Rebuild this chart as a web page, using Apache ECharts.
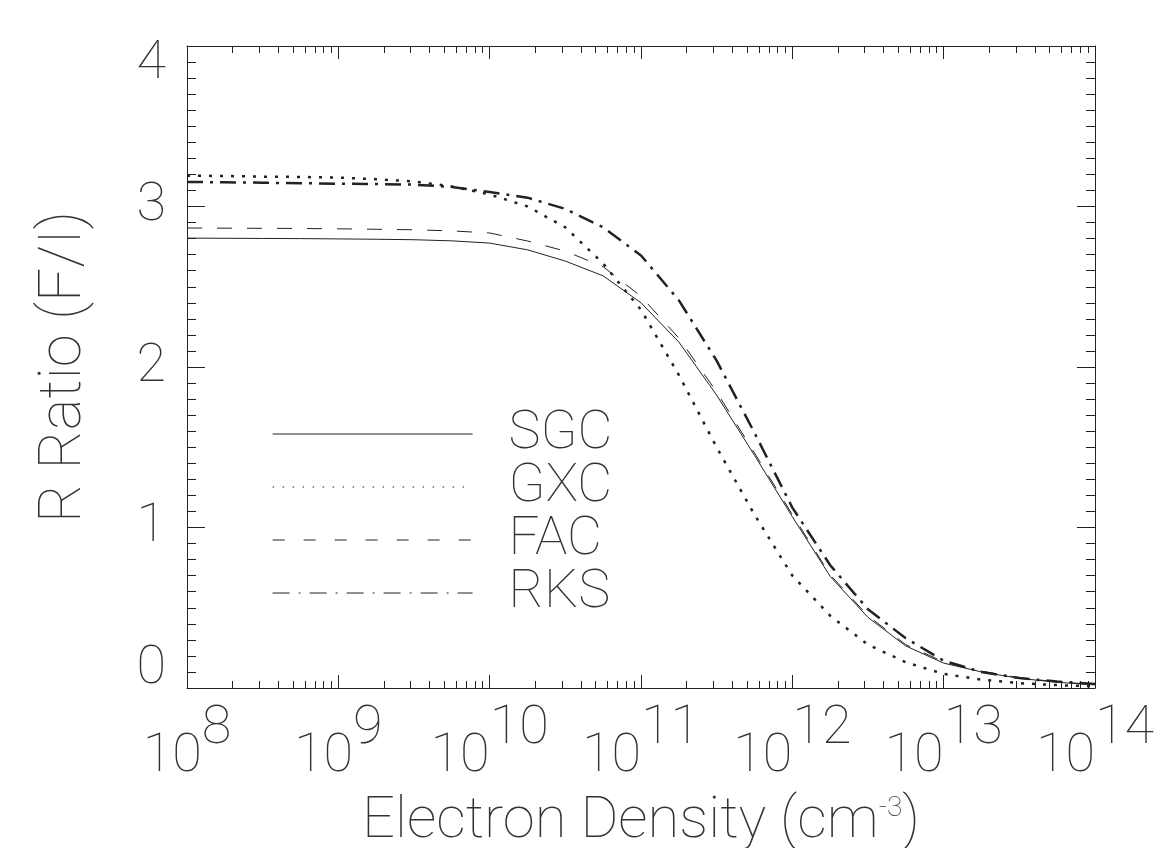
<!DOCTYPE html>
<html>
<head>
<meta charset="utf-8">
<title>R Ratio vs Electron Density</title>
<script src="https://cdn.jsdelivr.net/npm/echarts@6/dist/echarts.min.js"></script>
<style>
  html, body { margin: 0; padding: 0; background: #fff; }
  #chart { width: 1164px; height: 848px; }
</style>
</head>
<body>
<div id="chart"></div>
<script>
// electron density (cm^-3), quarter decades from 1e8 to 1e14
const density = [1e8, 1.78e8, 3.16e8, 5.62e8, 1e9, 1.78e9, 3.16e9, 5.62e9, 1e10, 1.78e10, 3.16e10, 5.62e10,
                 1e11, 1.78e11, 3.16e11, 5.62e11, 1e12, 1.78e12, 3.16e12, 5.62e12, 1e13, 1.78e13, 3.16e13, 5.62e13, 1e14];

// R ratio (F/I)
const sgc = [2.803, 2.802, 2.801, 2.800, 2.798, 2.796, 2.793, 2.786, 2.772, 2.730, 2.660, 2.568,
             2.400, 2.155, 1.825, 1.450, 1.067, 0.695, 0.440, 0.262, 0.155, 0.100, 0.060, 0.036, 0.020];
const gxc = [3.192, 3.190, 3.186, 3.184, 3.180, 3.170, 3.156, 3.125, 3.075, 3.000, 2.870, 2.645,
             2.356, 1.950, 1.500, 1.080, 0.700, 0.450, 0.270, 0.160, 0.088, 0.052, 0.030, 0.018, 0.010];
const fac = [2.866, 2.865, 2.864, 2.863, 2.861, 2.858, 2.855, 2.848, 2.835, 2.785, 2.722, 2.625,
             2.440, 2.180, 1.845, 1.465, 1.080, 0.705, 0.450, 0.270, 0.163, 0.105, 0.064, 0.038, 0.022];
const rks = [3.153, 3.151, 3.148, 3.145, 3.142, 3.140, 3.136, 3.122, 3.090, 3.055, 2.985, 2.870,
             2.695, 2.415, 2.040, 1.590, 1.124, 0.765, 0.490, 0.310, 0.170, 0.100, 0.062, 0.040, 0.025];

const seriesNames = ['SGC', 'GXC', 'FAC', 'RKS'];
const seriesValues = [sgc, gxc, fac, rks];

const FONT = 'Roboto';
const WEIGHT = 100;
const INK = '#222';
const TXT = '#333';

// text style shared by labels
const big = { fontFamily: FONT, fontSize: 54, fontWeight: WEIGHT, color: TXT, lineHeight: 54 };

// curve styles and the finer legend versions
const curveStyle = [
  { width: 1, type: 'solid' },
  { width: 2.5, type: [3, 8] },
  { width: 1, type: [15, 15] },
  { width: 2.5, type: [16, 7, 3, 7] }
];
const legendStyle = [
  { width: 1, type: 'solid' },
  { width: 1.2, type: [1.5, 8.5] },
  { width: 1, type: [12, 19] },
  { width: 1, type: [17, 9, 2, 9] }
];

let chart = echarts.init(document.getElementById('chart'));

// axes: bottom / left carry labels, top / right only ticks
function xAxisBase(pos) {
  return {
    type: 'log',
    logBase: 10,
    min: 1e8,
    max: 1e14,
    splitNumber: 6,
    position: pos,
    axisLine: { show: true, onZero: false, lineStyle: { color: INK, width: 1 } },
    axisTick: { show: true, inside: true, length: 13, lineStyle: { color: INK } },
    minorTick: { show: true, splitNumber: 9, length: 7, lineStyle: { color: INK } },
    splitLine: { show: false },
    minorSplitLine: { show: false }
  };
}
function yAxisBase(pos) {
  return {
    type: 'value',
    min: 0,
    max: 4,
    interval: 1,
    position: pos,
    axisLine: { show: true, onZero: false, lineStyle: { color: INK, width: 1 } },
    axisTick: { show: true, inside: true, length: 18, lineStyle: { color: INK } },
    minorTick: { show: true, splitNumber: 10, length: 9, lineStyle: { color: INK } },
    splitLine: { show: false },
    minorSplitLine: { show: false }
  };
}

let xBottom = xAxisBase('bottom');
xBottom.axisLabel = {
  show: true,
  margin: 42,
  showMinLabel: true,
  showMaxLabel: true,
  formatter: function (v) {
    return '{b|10}{s|' + Math.round(Math.log10(v)) + '}';
  },
  rich: {
    b: Object.assign({}, big, { verticalAlign: 'bottom' }),
    s: Object.assign({}, big, { verticalAlign: 'bottom', padding: [0, 0, 28, 0] })
  }
};
xBottom.name = '{t|Electron Density (cm}{s|-3}{t|)}';
xBottom.nameLocation = 'middle';
xBottom.nameGap = 105;
xBottom.nameMoveOverlap = false;
xBottom.nameTextStyle = {
  rich: {
    t: { fontFamily: FONT, fontSize: 58, fontWeight: WEIGHT, color: TXT, lineHeight: 58, verticalAlign: 'bottom' },
    s: { fontFamily: FONT, fontSize: 28, fontWeight: WEIGHT, color: TXT, lineHeight: 28, verticalAlign: 'bottom', padding: [0, 0, 28, 0] }
  }
};

let xTop = xAxisBase('top');
xTop.axisLabel = { show: false };

let yLeft = yAxisBase('left');
yLeft.axisLabel = {
  show: true,
  margin: 21,
  formatter: function (v) {
    if (v === 4) return '{t|4}';
    if (v === 0) return '{d|0}';
    return '{m|' + v + '}';
  },
  rich: {
    t: Object.assign({}, big, { padding: [37, 0, 0, 0] }),
    d: Object.assign({}, big, { padding: [0, 0, 38, 0] }),
    m: Object.assign({}, big)
  }
};
yLeft.name = 'R Ratio (F/I)';
yLeft.nameLocation = 'middle';
yLeft.nameGap = 92;
yLeft.nameMoveOverlap = false;
yLeft.nameTextStyle = { fontFamily: FONT, fontSize: 60, fontWeight: WEIGHT, color: TXT, lineHeight: 60 };

let yRight = yAxisBase('right');
yRight.axisLabel = { show: false };

let option = {
  backgroundColor: '#fff',
  animation: false,
  grid: { left: 187, right: 69, top: 46, bottom: 160, outerBoundsMode: 'none', containLabel: false },
  xAxis: [xBottom, xTop],
  yAxis: [yLeft, yRight],
  legend: {
    orient: 'vertical',
    left: 272,
    top: 407,
    padding: 0,
    itemWidth: 200,
    itemHeight: 14,
    itemGap: -1,
    selectedMode: false,
    itemStyle: { opacity: 0 },
    data: seriesNames.map((n, i) => ({ name: n, lineStyle: legendStyle[i] })),
    formatter: function (name) { return '{n|' + name + '}'; },
    textStyle: {
      fontFamily: FONT, fontSize: 54, fontWeight: WEIGHT, color: TXT, lineHeight: 54,
      rich: { n: Object.assign({}, big, { padding: [0, 0, 0, 31] }) }
    }
  },
  series: seriesNames.map((n, i) => ({
    name: n,
    type: 'line',
    xAxisIndex: 0,
    yAxisIndex: 0,
    symbol: 'none',
    showSymbol: false,
    smooth: false,
    color: INK,
    lineStyle: Object.assign({ color: INK, cap: 'butt' }, curveStyle[i]),
    data: density.map((d, k) => [d, seriesValues[i][k]])
  }))
};

chart.setOption(option);
</script>
</body>
</html>
